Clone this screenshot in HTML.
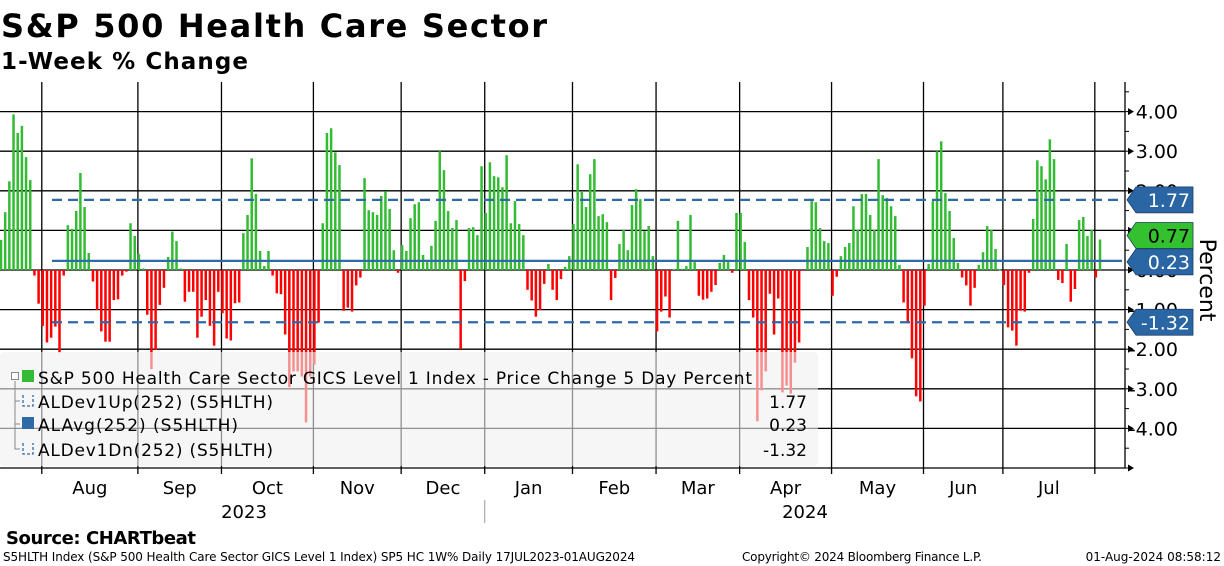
<!DOCTYPE html>
<html><head><meta charset="utf-8">
<style>
html,body{margin:0;padding:0;background:#fff;}
body{width:1224px;height:566px;overflow:hidden;position:relative;font-family:"DejaVu Sans","Liberation Sans",sans-serif;}
svg{position:absolute;left:0;top:0;}
</style></head>
<body>
<svg id="chart" width="1224" height="566" viewBox="0 0 1224 566" xmlns="http://www.w3.org/2000/svg">
  <text x="1" y="37" font-family="DejaVu Sans, sans-serif" font-weight="bold" font-size="32" textLength="546" fill="#000">S&amp;P 500 Health Care Sector</text>
  <text x="1" y="69" font-family="DejaVu Sans, sans-serif" font-weight="bold" font-size="23" textLength="247" fill="#000">1-Week % Change</text>
  <g id="grid"></g>
  <g id="bars"></g>
  <g id="refs"></g>
  <g id="axis"></g>
  <g id="xaxis"></g>
  <g id="legend"></g>
  <g id="tags"></g>
  <text transform="translate(1200,280) rotate(90)" text-anchor="middle" font-family="DejaVu Sans, sans-serif" font-size="22" fill="#000">Percent</text>
  <text x="6" y="544" font-family="DejaVu Sans, sans-serif" font-weight="bold" font-size="18" textLength="190" fill="#000">Source: CHARTbeat</text>
  <text x="3" y="561" font-family="DejaVu Sans, sans-serif" font-size="12" textLength="632" fill="#000">S5HLTH Index (S&amp;P 500 Health Care Sector GICS Level 1 Index) SP5 HC 1W%  Daily 17JUL2023-01AUG2024</text>
  <text x="742" y="561" font-family="DejaVu Sans, sans-serif" font-size="12" textLength="240" fill="#000">Copyright© 2024 Bloomberg Finance L.P.</text>
  <text x="1221" y="561" text-anchor="end" font-family="DejaVu Sans, sans-serif" font-size="12" fill="#000">01-Aug-2024 08:58:12</text>
</svg>
<script>
const values = [0.76,1.46,2.24,3.93,3.46,3.64,2.85,2.27,-0.14,-0.85,-1.41,-1.83,-1.71,-1.43,-2.08,-0.14,1.13,1.04,1.49,2.45,1.59,0.43,-0.29,-1.01,-1.55,-1.81,-1.81,-0.76,-0.74,-0.14,-0.04,1.18,0.86,0.40,0.04,-1.13,-2.5,-2.02,-0.88,-0.45,0.33,0.97,0.73,0.04,-0.80,-0.55,-0.55,-1.71,-1.18,-0.76,-1.41,-1.91,-0.55,-1.09,-1.73,-1.78,-0.84,-0.82,0.93,1.39,2.82,1.92,0.48,0.10,0.48,-0.14,-0.59,
-0.61,-1.63,-2.96,-2.56,-2.56,-2.69,-3.85,-2.69,-2.39,-1.33,1.18,3.46,3.58,2.97,2.65,-1.03,-0.95,-1.05,-0.39,-0.19,2.32,1.51,1.46,1.39,1.87,1.99,1.54,0.50,-0.07,0.63,0.48,1.31,1.66,1.71,0.38,0.20,0.61,1.24,3.00,2.52,1.49,1.06,1.26,-2.00,-0.28,1.06,1.08,0.88,2.62,1.44,2.72,2.37,2.34,2.09,2.90,1.18,1.74,1.16,0.88,-0.50,-0.77,-1.18,-1.01,-0.35,0.15,
-0.50,-0.76,-0.23,0.08,0.35,1.16,2.67,1.97,1.59,2.42,2.80,1.36,1.41,1.21,-0.76,-0.20,0.66,1.01,0.50,1.64,2.04,1.79,0.98,1.11,0.35,-1.55,-1.05,-0.67,-1.20,0.02,1.24,0.03,0.10,1.39,0.20,-0.65,-0.75,-0.72,-0.55,-0.38,0.18,0.38,0.20,-0.07,1.44,1.44,0.71,-0.76,-1.20,-3.82,-3.04,-2.56,-0.60,-1.63,-0.72,-3.09,-2.92,-3.12,-2.34,-1.83,-0.02,0.58,
1.74,1.71,1.06,0.73,0.68,-0.65,-0.17,0.35,0.58,0.68,1.61,1.01,1.92,1.92,1.39,1.01,2.80,1.89,1.82,1.61,1.36,0.13,-0.82,-1.30,-2.23,-3.19,-3.32,-0.90,0.15,1.74,3.00,3.25,1.94,1.49,0.81,0.18,-0.19,-0.39,-0.90,-0.45,0.13,0.45,1.11,1.01,0.53,0.01,-0.38,-1.45,-1.53,-1.91,-1.03,-1.05,-0.07,1.29,2.77,2.62,2.29,3.30,2.80,-0.25,-0.33,0.66,-0.80,-0.48,1.26,1.34,0.86,1.01,-0.19,0.77];
const devUp = 1.77;
const avgVal = 0.23;
const devDn = -1.32;
const yTicks = [4,3,2,1,0,-1,-2,-3,-4];
const yTickLabels = ["4.00","3.00","2.00","1.00","0.00","-1.00","-2.00","-3.00","-4.00"];
const monthTickIdx = [10,33,53,75,96,116,137,157,177,199,221,240,262];
const monthLabels = ["Aug","Sep","Oct","Nov","Dec","Jan","Feb","Mar","Apr","May","Jun","Jul"];
const yearLabels = ["2023","2024"];

const NS = "http://www.w3.org/2000/svg";
const X0 = 1, X1 = 1100, PR = 1125, PT = 82, PB = 468;
const step = (X1 - X0) / (values.length - 1);
function xs(i){ return X0 + i * step; }
function ys(v){ return 270 - v * 39.6; }
function mk(tag, attrs, parent){ const e = document.createElementNS(NS, tag); for (const k in attrs) e.setAttribute(k, attrs[k]); parent.appendChild(e); return e; }

const grid = document.getElementById('grid');
yTicks.forEach(function(t){
  const l = mk('line', {x1:0, x2:PR, y1:ys(t), y2:ys(t), stroke:'#000', 'stroke-width':1.3}, grid);
  
  
});
monthTickIdx.forEach(function(i){
  const l = mk('line', {x1:xs(i)-1, x2:xs(i)-1, y1:PT, y2:PB+6, stroke:'#000', 'stroke-width':1.3}, grid);
  
  
});
const frame = mk('path', {d:'M0 '+PB+' H'+PR+' V'+PT, fill:'none', stroke:'#000', 'stroke-width':1.3}, grid);



const bars = document.getElementById('bars');
values.forEach(function(v, i){
  const y0 = ys(0), y1 = ys(v);
  const r = mk('rect', {x:xs(i)-1.25, y:Math.min(y0,y1), width:2.5, height:Math.max(0.8,Math.abs(y1-y0)), fill: v >= 0 ? '#33bb33' : '#ff0000'}, bars);
  
  
});

const refs = document.getElementById('refs');
[[devUp,'dev-up-line',true],[avgVal,'average-line',false],[devDn,'dev-down-line',true]].forEach(function(d){
  const a = {x1:52, x2:1122, y1:ys(d[0]), y2:ys(d[0]), stroke:'#2e6aa8', 'stroke-width':2.2};
  if (d[2]) a['stroke-dasharray'] = '10 6';
  const l = mk('line', a, refs);
  
  
});

const axis = document.getElementById('axis');
for (let v = -5; v <= 4.5; v += 0.5) {
  const isMaj = Number.isInteger(v);
  const t = mk('line', {x1:PR, x2:PR+(isMaj?6:4), y1:ys(v), y2:ys(v), stroke:'#000', 'stroke-width':1}, axis);
  
  
  if (isMaj) {
    const p = mk('path', {d:'M'+(PR+3)+' '+(ys(v)-3.5)+' L'+(PR+9)+' '+ys(v)+' L'+(PR+3)+' '+(ys(v)+3.5)+'Z', fill:'#000'}, axis);
    
    
  }
}
yTicks.forEach(function(t, k){
  const tx = mk('text', {x:1178, y:ys(t)+7, 'text-anchor':'end', 'font-family':'DejaVu Sans, sans-serif', 'font-size':19, fill:'#000'}, axis);
  tx.textContent = yTickLabels[k];
  
  
});

const xaxis = document.getElementById('xaxis');
monthLabels.forEach(function(m, k){
  const cx = (xs(monthTickIdx[k]) + xs(monthTickIdx[k+1])) / 2 - 1;
  const tx = mk('text', {x:cx, y:494, 'text-anchor':'middle', 'font-family':'DejaVu Sans, sans-serif', 'font-size':18, fill:'#000'}, xaxis);
  tx.textContent = m;
  
  
});
const yd = mk('line', {x1:xs(monthTickIdx[5])-1, x2:xs(monthTickIdx[5])-1, y1:500, y2:523, stroke:'#999', 'stroke-width':1}, xaxis);


[[244,yearLabels[0]],[805,yearLabels[1]]].forEach(function(d){
  const tx = mk('text', {x:d[0], y:518, 'text-anchor':'middle', 'font-family':'DejaVu Sans, sans-serif', 'font-size':18, fill:'#000'}, xaxis);
  tx.textContent = d[1];
  
  
});

const legend = document.getElementById('legend');
const lb = mk('rect', {x:0, y:352, width:818, height:114, rx:4, fill:'#f0f0f0', 'fill-opacity':0.6}, legend);


const tree = mk('path', {d:'M15 381 V449 H20 M15 401 H20 M15 424 H20', fill:'none', stroke:'#888', 'stroke-width':1}, legend);


const mb = mk('rect', {x:11.5, y:372.5, width:7, height:7, fill:'#fff', stroke:'#888', 'stroke-width':1}, legend);


const rows = [
  {y:377, label:'S&P 500 Health Care Sector GICS Level 1 Index - Price Change 5 Day Percent', val:'', sw:'fill', col:'#33bb33', len:714},
  {y:401, label:'ALDev1Up(252) (S5HLTH)', val:devUp.toFixed(2), sw:'dash', col:'#2e6aa8', len:235},
  {y:424, label:'ALAvg(252) (S5HLTH)', val:avgVal.toFixed(2), sw:'fill', col:'#2e6aa8', len:200},
  {y:449, label:'ALDev1Dn(252) (S5HLTH)', val:devDn.toFixed(2), sw:'dash', col:'#2e6aa8', len:235}
];
rows.forEach(function(r){
  let s;
  if (r.sw === 'fill') s = mk('rect', {x:22, y:r.y-7, width:12, height:12, fill:r.col}, legend);
  else s = mk('path', {d:'M23 '+(r.y-6)+' V'+(r.y+5)+' H33 V'+(r.y-6), fill:'none', stroke:r.col, 'stroke-width':1.3, 'stroke-dasharray':'3 2'}, legend);
  
  
  const t = mk('text', {x:38, y:r.y+7, 'font-family':'DejaVu Sans, sans-serif', 'font-size':17, textLength:r.len, fill:'#000'}, legend);
  t.textContent = r.label;
  
  
  if (r.val) {
    const v = mk('text', {x:807, y:r.y+7, 'text-anchor':'end', 'font-family':'DejaVu Sans, sans-serif', 'font-size':17, fill:'#000'}, legend);
    v.textContent = r.val;
    
    
  }
});

const tags = document.getElementById('tags');
[[devUp,'#2a66a4','#fff','tag-dev-up'],[values[values.length-1],'#33c12f','#000','tag-last-value'],[avgVal,'#2a66a4','#fff','tag-average'],[devDn,'#2a66a4','#fff','tag-dev-down']].forEach(function(d){
  const cy = ys(d[0]) + (d[3]==='tag-last-value' ? -4 : (d[3]==='tag-average' ? 1 : 0));
  const p = mk('path', {d:'M1127 '+cy+' L1136 '+(cy-13)+' H1193 V'+(cy+13)+' H1136 Z', fill:d[1], stroke:'#1a3f66', 'stroke-width':0.8}, tags);
  
  
  const t = mk('text', {x:1190, y:cy+7, 'text-anchor':'end', 'font-family':'DejaVu Sans, sans-serif', 'font-size':19, fill:d[2]}, tags);
  t.textContent = d[0].toFixed(2);
  
  
});
</script>
</body></html>
